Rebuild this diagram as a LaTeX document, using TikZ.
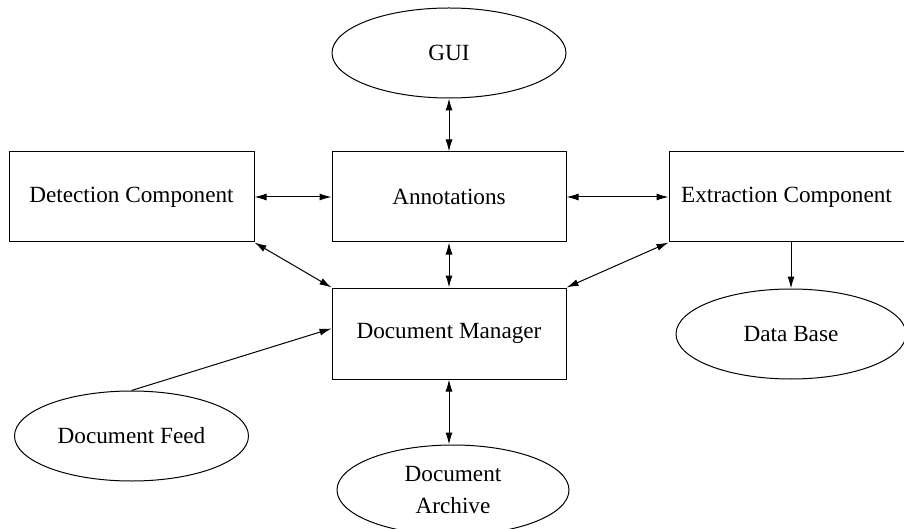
\documentclass[tikz,border=0pt]{standalone}
\usepackage{fontspec}
\setmainfont{Liberation Serif}
\usetikzlibrary{arrows.meta, positioning, shapes.geometric}

\begin{document}
\begin{tikzpicture}
\tikzset{comp/.style={rectangle, draw, line width=0.5pt, align=center, minimum width=117pt, minimum height=45pt, inner sep=0pt, font=\fontsize{11.6}{16}\selectfont},
		store/.style={ellipse, draw, line width=0.5pt, align=center, minimum width=117pt, minimum height=45pt, inner sep=0pt, font=\fontsize{11.6}{16}\selectfont},
		link/.style={line width=0.5pt, -{Latex[length=6pt,width=3.5pt]}},
		both/.style={line width=0.5pt, {Latex[length=6pt,width=3.5pt]}-{Latex[length=6pt,width=3.5pt]}}}
\useasboundingbox (0,0) rectangle (452pt,-264.5pt);
\node[comp] (Ann) at (224.5pt,-98.5pt) {Annotations};
\node[comp, minimum width=122.5pt, left=38.5pt of Ann] (Det) {Detection Component};
\node[comp, minimum width=117.5pt, right=51pt of Ann] (Ext) {Extraction Component};
\node[store, above=26.5pt of Ann] (GUI) {GUI};
\node[comp, below=22.5pt of Ann, minimum height=45.5pt] (DM) {Document Manager};
\node[store, minimum width=115pt, below=23pt of Ext, xshift=2.25pt] (DB) {Data Base};
\node[store, below=74pt of Det] (Feed) {Document Feed};
\node[store, minimum width=116pt, below=32.5pt of DM, xshift=2pt] (Arch) {Document\\Archive};
\draw[both] (GUI) -- (Ann);
\draw[both] (Det) -- (Ann);
\draw[both] (Ann) -- (Ext);
\draw[both] (Ann) -- (DM);
\draw[both] (Det.south east) -- (DM.north west);
\draw[both] (Ext.south west) -- (DM.north east);
\draw[link] (Ext.south -| DB.north) -- (DB.north);
\draw[link] (Feed.north) -- ([yshift=2.5pt]DM.west);
\draw[both] (DM) -- (DM.south |- Arch.north);
\end{tikzpicture}
\end{document}
